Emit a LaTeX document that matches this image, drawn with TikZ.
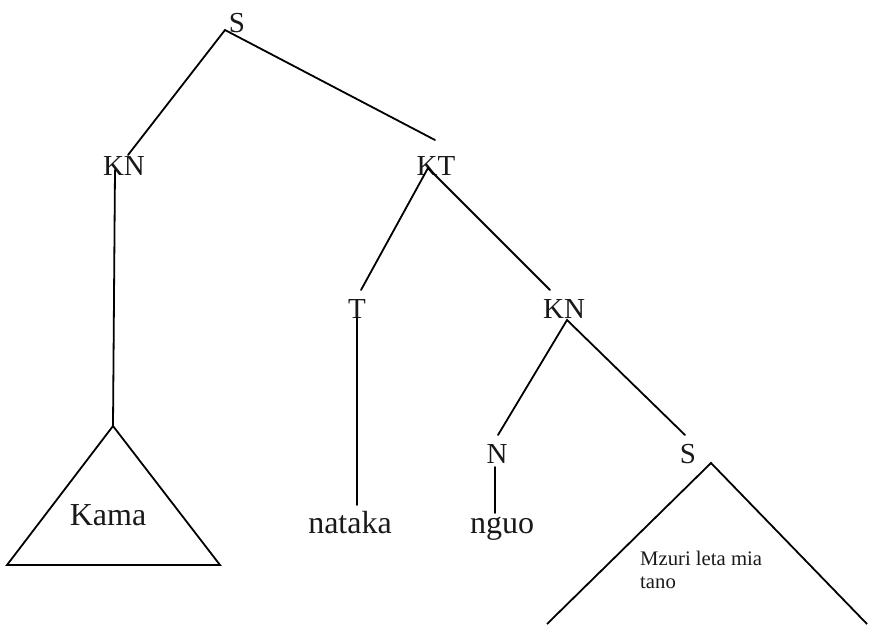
\documentclass[tikz,border=0pt]{standalone}
\usepackage{fontspec}
\setmainfont{Liberation Serif}
\begin{document}
\begin{tikzpicture}[x=1pt,y=-1pt,
  edge/.style={draw=black, line width=1.8pt, line cap=round, line join=miter},
  lbl/.style={font=\fontsize{29}{29}\selectfont, inner sep=0pt, anchor=base, text=black!90},
  word/.style={font=\fontsize{32}{32}\selectfont, inner sep=0pt, anchor=base, text=black!90},
  small/.style={font=\fontsize{20.7}{23}\selectfont, inner sep=0pt, anchor=base west, align=left, text=black!90}]
\useasboundingbox (0,0) rectangle (870,624);
% labels
\node[lbl] (S) at (237,32) {S};
\node[lbl] (KN1) at (124,175) {KN};
\node[lbl] (KT) at (436,175) {KT};
\node[lbl] (T) at (357,318) {T};
\node[lbl] (KN2) at (564,318) {KN};
\node[lbl] (N) at (497,463) {N};
\node[lbl] (S2) at (688,463) {S};
\node[word] (nataka) at (350,533) {nataka};
\node[word] (nguo) at (502,533) {nguo};
\node[word] (Kama) at (108,525) {Kama};
\node[small] (Mzuri) at (640,588) {Mzuri leta mia\\tano};
% attachment points
\coordinate (Sj) at (225,30);
\coordinate (KN1t) at (128,155);
\coordinate (KN1b) at (115,170);
\coordinate (KTt) at (435,140);
\coordinate (KTb) at (428,168);
\coordinate (Tt) at (361,290);
\coordinate (Tb) at (357,318);
\coordinate (natakat) at (357,505);
\coordinate (KN2t) at (550,290);
\coordinate (KN2b) at (567,320);
\coordinate (Nt) at (498,435);
\coordinate (Nb) at (495,467);
\coordinate (nguot) at (495,513);
\coordinate (S2t) at (685,435);
\coordinate (A1) at (113,426);
\coordinate (B1) at (7,565);
\coordinate (C1) at (220,565);
\coordinate (A2) at (711,463);
\coordinate (B2) at (547,624);
\coordinate (C2) at (867,624);
% connectors
\draw[edge] (KN1t) -- (Sj) -- (KTt);
\draw[edge] (KN1b) -- (A1);
\draw[edge] (A1) -- (B1) -- (C1) -- cycle;
\draw[edge] (Tt) -- (KTb) -- (KN2t);
\draw[edge] (Tb) -- (natakat);
\draw[edge] (Nt) -- (KN2b) -- (S2t);
\draw[edge] (Nb) -- (nguot);
\draw[edge, line cap=butt] (B2) -- (A2) -- (C2);
\end{tikzpicture}
\end{document}
